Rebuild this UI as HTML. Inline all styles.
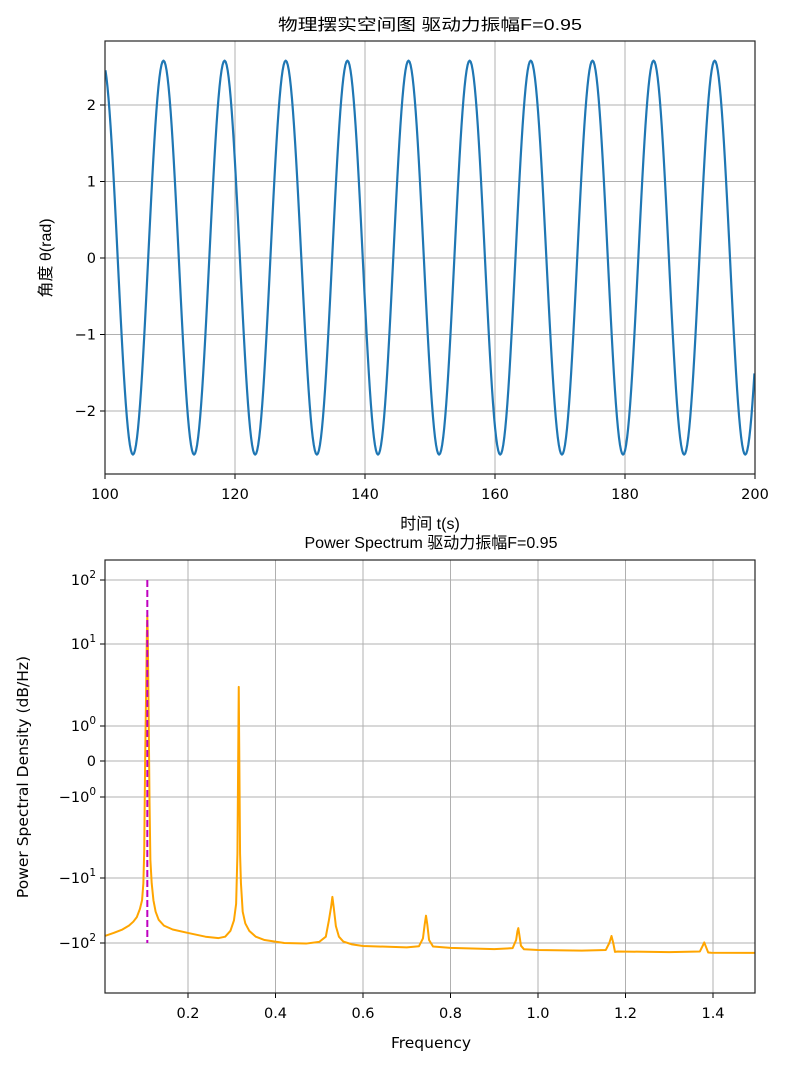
<!DOCTYPE html>
<html><head><meta charset="utf-8">
<style>
html,body{margin:0;padding:0;background:#fff;}
svg{display:block;}
text{font-family:"DejaVu Sans","Liberation Sans",sans-serif;fill:#000;}
.cjk{font-family:"Liberation Sans","Noto Sans CJK SC",sans-serif;}
.tick{font-size:14.5px;}
</style></head>
<body>
<svg id="fig" width="789" height="1066" viewBox="0 0 789 1066" xmlns="http://www.w3.org/2000/svg">
  <rect x="0" y="0" width="789" height="1066" fill="#fff"/>
  <g id="top"></g>
  <g id="bot"></g>
</svg>
<script>
// ---------- Top chart data ----------
const tsXTicks = [100, 120, 140, 160, 180, 200];
const tsYTicks = [-2, -1, 0, 1, 2];
const tsExtremaT = [99.6, 104.3, 109.0, 113.7, 118.4, 123.1, 127.8, 132.6, 137.3, 142.0, 146.7, 151.4, 156.1, 160.8, 165.5, 170.3, 175.0, 179.7, 184.4, 189.1, 193.8, 198.5, 203.2];
const tsExtremaV = [2.58, -2.57, 2.58, -2.57, 2.58, -2.57, 2.58, -2.57, 2.58, -2.57, 2.58, -2.57, 2.58, -2.57, 2.58, -2.57, 2.58, -2.57, 2.58, -2.57, 2.58, -2.57, 2.58];

// ---------- Bottom chart data ----------
const psdXTicks = [0.2, 0.4, 0.6, 0.8, 1.0, 1.2, 1.4];
const psdYTickVals = [100, 10, 1, 0, -1, -10, -100];
const psdYTickLbl = [["10","2"],["10","1"],["10","0"],["0",""],["\u221210","0"],["\u221210","1"],["\u221210","2"]];
const psdFreq = [0.01, 0.03, 0.05, 0.065, 0.075, 0.083, 0.09, 0.095, 0.098, 0.1, 0.102, 0.104, 0.106, 0.107, 0.108, 0.11, 0.112, 0.114, 0.117, 0.121, 0.126, 0.133, 0.145, 0.165, 0.2, 0.24, 0.27, 0.285, 0.297, 0.305, 0.31, 0.313, 0.315, 0.316, 0.317, 0.319, 0.321, 0.325, 0.331, 0.34, 0.355, 0.375, 0.42, 0.47, 0.5, 0.515, 0.522, 0.527, 0.53, 0.533, 0.538, 0.545, 0.555, 0.575, 0.6, 0.7, 0.728, 0.737, 0.741, 0.744, 0.747, 0.751, 0.76, 0.8, 0.9, 0.942, 0.95, 0.953, 0.955, 0.957, 0.961, 0.968, 1.0, 1.1, 1.155, 1.163, 1.168, 1.172, 1.176, 1.182, 1.3, 1.37, 1.376, 1.38, 1.384, 1.389, 1.396, 1.5];
const psdValue = [-78, -70, -62, -54, -47, -40, -30, -22, -12, -4.5, 0, 2.1, 15, 28, 15, 1.5, -1.1, -6, -12, -22, -33, -44, -54, -62, -70, -80, -84, -80, -65, -45, -25, -5, 0.5, 3.0, 0.5, -5, -12, -33, -50, -65, -80, -90, -100, -102, -96, -80, -45, -28, -19.5, -28, -55, -80, -95, -105, -111, -117, -112, -85, -52, -38, -52, -90, -113, -119, -124, -120, -90, -66, -59, -72, -110, -125, -128, -131, -128, -100, -78, -100, -137, -135, -138, -135, -112, -98, -115, -140, -141, -142];
const psdMarkerF = 0.107;
const psdMarkerTop = 100, psdMarkerBottom = -100;

const NS = "http://www.w3.org/2000/svg";
function mk(tag, attrs, parent){ const e=document.createElementNS(NS,tag); for(const k in attrs) e.setAttribute(k,attrs[k]); parent.appendChild(e); return e; }

// ---------- Top chart ----------
(function(){
  const g = document.getElementById('top');
  const L=105,R=755,T=41,B=474;
  const x = t => L + (t-100)/(200-100)*(R-L);
  const y = v => 258 - v*76.5;
  tsXTicks.forEach(t=>{
    const l=mk('line',{x1:x(t),x2:x(t),y1:T,y2:B,stroke:'#b0b0b0','stroke-width':1},g);
    
    
    mk('line',{x1:x(t),x2:x(t),y1:B,y2:B+5,stroke:'#000','stroke-width':1},g);
    const tx=mk('text',{x:x(t),y:B+25,'text-anchor':'middle',class:'tick'},g);
    tx.textContent=t;
    
    
  });
  tsYTicks.forEach(v=>{
    const l=mk('line',{x1:L,x2:R,y1:y(v),y2:y(v),stroke:'#b0b0b0','stroke-width':1},g);
    
    
    mk('line',{x1:L-5,x2:L,y1:y(v),y2:y(v),stroke:'#000','stroke-width':1},g);
    const tx=mk('text',{x:L-9,y:y(v)+5,'text-anchor':'end',class:'tick'},g);
    tx.textContent=(v<0?'\u2212':'')+Math.abs(v);
    
    
  });
  let d='';
  for(let i=0;i<tsExtremaT.length-1;i++){
    const t0=tsExtremaT[i],t1=tsExtremaT[i+1],v0=tsExtremaV[i],v1=tsExtremaV[i+1];
    for(let k=0;k<=30;k++){
      const t=t0+(t1-t0)*k/30;
      if(t<100||t>200) continue;
      const v=v0+(v1-v0)*(1-Math.cos(Math.PI*k/30))/2;
      d+=(d?'L':'M')+x(t).toFixed(2)+','+y(v).toFixed(2);
    }
  }
  const cp=mk('clipPath',{id:'clipTop'},g); mk('rect',{x:L,y:T,width:R-L,height:B-T},cp);
  const p=mk('path',{d:d,fill:'none',stroke:'#1f77b4','stroke-width':2.2,'clip-path':'url(#clipTop)','stroke-linejoin':'round'},g);
  
  
  const fr=mk('rect',{x:L,y:T,width:R-L,height:B-T,fill:'none',stroke:'#262626','stroke-width':1.2},g);
  
  
  const ti=mk('text',{x:430,y:30,'text-anchor':'middle',class:'cjk','font-size':16,textLength:304,lengthAdjust:'spacingAndGlyphs'},g);
  ti.textContent='物理摆实空间图 驱动力振幅F=0.95';
  
  
  const xl=mk('text',{x:430,y:529,'text-anchor':'middle',class:'cjk','font-size':16},g);
  xl.textContent='时间 t(s)';
  
  
  const yl=mk('text',{x:0,y:0,'text-anchor':'middle',class:'cjk','font-size':16,transform:'translate(51,258) rotate(-90)'},g);
  yl.textContent='角度 θ(rad)';
  
  
})();

// ---------- Bottom chart ----------
(function(){
  const g=document.getElementById('bot');
  const L=105,R=755,T=560,B=993;
  const x = f => 100.5 + f/0.2*87.5;
  const tr = v => Math.abs(v)<=1 ? v : Math.sign(v)*(1+Math.log10(Math.abs(v)));
  const tpos=[3,2,1,0,-1,-2,-3], ppos=[580,644,726,761,797,878,943];
  const y = v => {
    const t=tr(v);
    let i=0;
    if(t>=tpos[0]) i=0; else if(t<=tpos[6]) i=5; else { while(!(t<=tpos[i]&&t>=tpos[i+1])) i++; }
    return ppos[i]+(t-tpos[i])/(tpos[i+1]-tpos[i])*(ppos[i+1]-ppos[i]);
  };
  psdXTicks.forEach(f=>{
    const l=mk('line',{x1:x(f),x2:x(f),y1:T,y2:B,stroke:'#b0b0b0','stroke-width':1},g);
    
    
    mk('line',{x1:x(f),x2:x(f),y1:B,y2:B+5,stroke:'#000','stroke-width':1},g);
    const tx=mk('text',{x:x(f),y:B+25,'text-anchor':'middle',class:'tick'},g);
    tx.textContent=f.toFixed(1);
    
    
  });
  psdYTickVals.forEach((v,i)=>{
    const l=mk('line',{x1:L,x2:R,y1:y(v),y2:y(v),stroke:'#b0b0b0','stroke-width':1},g);
    
    
    mk('line',{x1:L-5,x2:L,y1:y(v),y2:y(v),stroke:'#000','stroke-width':1},g);
    const tx=mk('text',{x:L-9,y:y(v)+5,'text-anchor':'end',class:'tick'},g);
    
    
    const a=mk('tspan',{},tx); a.textContent=psdYTickLbl[i][0];
    if(psdYTickLbl[i][1]){ const b=mk('tspan',{'font-size':'10.5px',dy:'-7'},tx); b.textContent=psdYTickLbl[i][1]; }
  });
  const cp=mk('clipPath',{id:'clipBot'},g); mk('rect',{x:L,y:T,width:R-L,height:B-T},cp);
  let d='';
  psdFreq.forEach((f,i)=>{ d+=(i?'L':'M')+x(f).toFixed(2)+','+y(psdValue[i]).toFixed(2); });
  const p=mk('path',{d:d,fill:'none',stroke:'#ffa500','stroke-width':2,'clip-path':'url(#clipBot)','stroke-linejoin':'round'},g);
  
  
  const m=mk('line',{x1:x(psdMarkerF),x2:x(psdMarkerF),y1:y(psdMarkerTop),y2:y(psdMarkerBottom),stroke:'#bf00bf','stroke-width':2,'stroke-dasharray':'7,3'},g);
  
  
  const fr=mk('rect',{x:L,y:T,width:R-L,height:B-T,fill:'none',stroke:'#262626','stroke-width':1.2},g);
  
  
  const ti=mk('text',{x:431,y:548,'text-anchor':'middle',class:'cjk','font-size':16},g);
  ti.textContent='Power Spectrum 驱动力振幅F=0.95';
  
  
  const xl=mk('text',{x:431,y:1048,'text-anchor':'middle','font-size':15.5},g);
  xl.textContent='Frequency';
  
  
  const yl=mk('text',{x:0,y:0,'text-anchor':'middle','font-size':15.5,transform:'translate(28,777) rotate(-90)'},g);
  yl.textContent='Power Spectral Density (dB/Hz)';
  
  
})();
</script>
</body></html>
